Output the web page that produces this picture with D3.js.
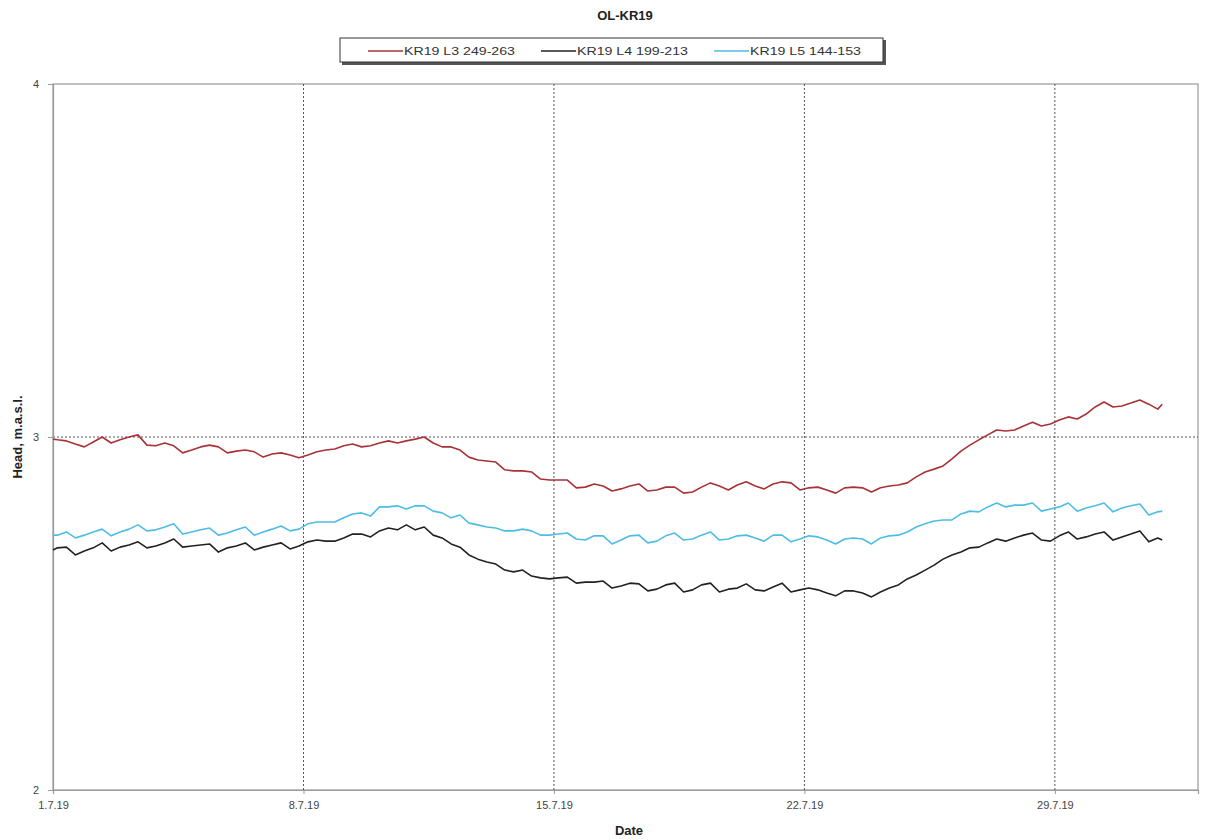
<!DOCTYPE html>
<html>
<head>
<meta charset="utf-8">
<script src="https://cdn.jsdelivr.net/npm/d3@7"></script>
<style>
  html, body { margin: 0; padding: 0; background: #fff; }
  svg { display: block; font-family: "Liberation Sans", Arial, sans-serif; }
</style>
</head>
<body>
<svg id="chart" width="1208" height="840"></svg>
<script>
// Hydraulic head readings in borehole OL-KR19, July 2019 (m.a.s.l.)
// Readings: 1.7.19 00:00, then every 6 h at 03, 09, 15, 21 o'clock, then 1.8.19 00:00
const seriesNames = ["KR19 L3 249-263", "KR19 L4 199-213", "KR19 L5 144-153"];
const seriesColors = ["#a83236", "#222222", "#4dbde6"];

const headL3 = [2.994,
  2.992, 2.989, 2.980, 2.972,  2.986, 3.000, 2.983, 2.992,  3.000, 3.006, 2.977, 2.975,
  2.983, 2.975, 2.955, 2.963,  2.972, 2.977, 2.972, 2.955,  2.960, 2.963, 2.958, 2.943,
  2.952, 2.955, 2.949, 2.941,  2.949, 2.958, 2.963, 2.966,  2.975, 2.980, 2.972, 2.975,
  2.983, 2.989, 2.983, 2.989,  2.994, 3.000, 2.983, 2.972,  2.972, 2.963, 2.943, 2.935,
  2.932, 2.929, 2.907, 2.904,  2.904, 2.901, 2.881, 2.878,  2.878, 2.878, 2.856, 2.858,
  2.867, 2.861, 2.847, 2.853,  2.861, 2.867, 2.847, 2.850,  2.858, 2.858, 2.841, 2.844,
  2.858, 2.870, 2.861, 2.850,  2.864, 2.873, 2.861, 2.853,  2.867, 2.873, 2.870, 2.850,
  2.856, 2.858, 2.850, 2.841,  2.856, 2.858, 2.856, 2.844,  2.856, 2.861, 2.864, 2.870,
  2.887, 2.901, 2.909, 2.918,  2.938, 2.960, 2.977, 2.992,  3.006, 3.020, 3.017, 3.020,
  3.031, 3.042, 3.031, 3.037,  3.048, 3.057, 3.051, 3.065,  3.085, 3.099, 3.085, 3.088,
  3.096, 3.105, 3.093, 3.079,
  3.093];

const headL4 = [2.680,
  2.686, 2.688, 2.666, 2.677,  2.686, 2.700, 2.677, 2.688,  2.694, 2.703, 2.686, 2.691,
  2.700, 2.711, 2.688, 2.691,  2.694, 2.697, 2.674, 2.686,  2.691, 2.700, 2.680, 2.688,
  2.694, 2.700, 2.683, 2.691,  2.703, 2.708, 2.705, 2.705,  2.714, 2.725, 2.725, 2.717,
  2.734, 2.742, 2.737, 2.751,  2.737, 2.745, 2.722, 2.714,  2.697, 2.688, 2.666, 2.654,
  2.646, 2.640, 2.623, 2.618,  2.623, 2.606, 2.601, 2.598,  2.601, 2.603, 2.586, 2.589,
  2.589, 2.592, 2.572, 2.578,  2.586, 2.584, 2.564, 2.569,  2.581, 2.586, 2.561, 2.567,
  2.581, 2.586, 2.561, 2.569,  2.572, 2.584, 2.567, 2.564,  2.575, 2.586, 2.561, 2.567,
  2.572, 2.567, 2.558, 2.550,  2.564, 2.564, 2.558, 2.547,  2.561, 2.572, 2.581, 2.598,
  2.609, 2.623, 2.637, 2.654,  2.666, 2.674, 2.686, 2.688,  2.700, 2.711, 2.705, 2.714,
  2.722, 2.728, 2.708, 2.705,  2.720, 2.731, 2.711, 2.717,  2.725, 2.731, 2.708, 2.717,
  2.725, 2.734, 2.703, 2.714,
  2.708];

const headL5 = [2.722,
  2.722, 2.731, 2.714, 2.722,  2.731, 2.739, 2.720, 2.731,  2.739, 2.751, 2.734, 2.737,
  2.745, 2.754, 2.725, 2.731,  2.737, 2.742, 2.722, 2.728,  2.737, 2.745, 2.722, 2.731,
  2.739, 2.748, 2.734, 2.739,  2.754, 2.759, 2.759, 2.759,  2.771, 2.782, 2.785, 2.776,
  2.802, 2.802, 2.805, 2.796,  2.805, 2.805, 2.790, 2.785,  2.771, 2.779, 2.756, 2.751,
  2.745, 2.742, 2.734, 2.734,  2.739, 2.734, 2.722, 2.722,  2.725, 2.728, 2.711, 2.708,
  2.720, 2.720, 2.697, 2.708,  2.720, 2.722, 2.700, 2.705,  2.720, 2.728, 2.708, 2.711,
  2.722, 2.731, 2.708, 2.711,  2.720, 2.722, 2.714, 2.705,  2.722, 2.722, 2.703, 2.711,
  2.720, 2.717, 2.708, 2.697,  2.711, 2.714, 2.711, 2.697,  2.714, 2.720, 2.722, 2.731,
  2.745, 2.754, 2.762, 2.765,  2.765, 2.782, 2.790, 2.788,  2.802, 2.813, 2.802, 2.807,
  2.807, 2.813, 2.790, 2.796,  2.802, 2.813, 2.790, 2.799,  2.805, 2.813, 2.788, 2.799,
  2.805, 2.810, 2.779, 2.788,
  2.790];

const xTickDates = ["2019-07-01", "2019-07-08", "2019-07-15", "2019-07-22", "2019-07-29"];
const yTickValues = [2, 3, 4];

// reading times in hours after 1.7.19 00:00
const readingHours = [0].concat(d3.range(31).flatMap(d => [3, 9, 15, 21].map(h => d * 24 + h)), [744]);
const start = new Date(2019, 6, 1);
const times = readingHours.map(h => d3.timeHour.offset(start, h));

const svg = d3.select("#chart");
const margin = { left: 53, top: 84, right: 1198, bottom: 790 };

const x = d3.scaleTime()
  .domain([start, new Date(2019, 7, 2)])
  .range([margin.left, margin.right]);
const y = d3.scaleLinear().domain([2, 4]).range([margin.bottom, margin.top]);

// title
svg.append("text")
  .attr("x", 625).attr("y", 20)
  .attr("text-anchor", "middle")
  .attr("font-size", 13).attr("font-weight", "bold").attr("fill", "#222")
  .text("OL-KR19");

// legend
const lg = svg.append("g");
lg.append("rect").attr("x", 342).attr("y", 40).attr("width", 544).attr("height", 25)
  .attr("fill", "#555");
lg.append("rect").attr("x", 340).attr("y", 38).attr("width", 543).attr("height", 24)
  .attr("fill", "#fff").attr("stroke", "#333").attr("stroke-width", 1);
const legendX = [368, 541, 714];
seriesNames.forEach((name, i) => {
  lg.append("line")
    .attr("x1", legendX[i]).attr("x2", legendX[i] + 35)
    .attr("y1", 51).attr("y2", 51)
    .attr("stroke", seriesColors[i]).attr("stroke-width", 1.5);
  lg.append("text")
    .attr("x", legendX[i] + 36).attr("y", 55)
    .attr("font-size", 11).attr("fill", "#333")
    .attr("textLength", 111).attr("lengthAdjust", "spacingAndGlyphs")
    .text(name);
});

// plot frame
svg.append("rect")
  .attr("x", margin.left).attr("y", margin.top)
  .attr("width", margin.right - margin.left).attr("height", margin.bottom - margin.top)
  .attr("fill", "#fff").attr("stroke", "#9a9a9a").attr("stroke-width", 1.2);

// grid lines
const grid = svg.append("g").attr("stroke", "#555").attr("stroke-width", 1)
  .attr("stroke-dasharray", "2,2");
grid.selectAll("line.v").data(xTickDates.slice(1)).join("line")
  .attr("x1", d => x(new Date(d + "T00:00"))).attr("x2", d => x(new Date(d + "T00:00")))
  .attr("y1", margin.top).attr("y2", margin.bottom);
grid.selectAll("line.h").data([3]).join("line")
  .attr("x1", margin.left).attr("x2", margin.right)
  .attr("y1", d => y(d)).attr("y2", d => y(d));

// axes
const fmt = d3.timeFormat("%-d.%-m.%y");
const xAxis = svg.append("g")
  .attr("transform", `translate(0,${margin.bottom})`)
  .call(d3.axisBottom(x)
    .tickValues(xTickDates.map(d => new Date(d + "T00:00")))
    .tickFormat(fmt).tickSize(4).tickPadding(7));
const yAxis = svg.append("g")
  .attr("transform", `translate(${margin.left},0)`)
  .call(d3.axisLeft(y).tickValues(yTickValues).tickFormat(d3.format("d"))
    .tickSize(5).tickPadding(9));
[xAxis, yAxis].forEach(a => {
  a.select(".domain").attr("stroke", "#9a9a9a").attr("stroke-width", 1.2);
  a.selectAll(".tick line").attr("stroke", "#9a9a9a");
  a.selectAll("text").attr("font-size", 11).attr("fill", "#444")
    .attr("font-family", "'Liberation Sans', Arial, sans-serif");
});

// axis titles
svg.append("text")
  .attr("transform", "translate(22,437) rotate(-90)")
  .attr("text-anchor", "middle")
  .attr("font-size", 13).attr("font-weight", "bold").attr("fill", "#222")
  .text("Head, m.a.s.l.");
svg.append("text")
  .attr("x", 629).attr("y", 835)
  .attr("text-anchor", "middle")
  .attr("font-size", 13).attr("font-weight", "bold").attr("fill", "#222")
  .text("Date");

// series lines
const line = d3.line().x(d => x(d.t)).y(d => y(d.v));
[headL3, headL4, headL5].forEach((vals, i) => {
  const pts = vals.map((v, k) => ({ t: times[k], v }));
  svg.append("path")
    .datum(pts)
    .attr("fill", "none")
    .attr("stroke", seriesColors[i])
    .attr("stroke-width", 1.6)
    .attr("stroke-linejoin", "round")
    .attr("d", line);
});
</script>
</body>
</html>
